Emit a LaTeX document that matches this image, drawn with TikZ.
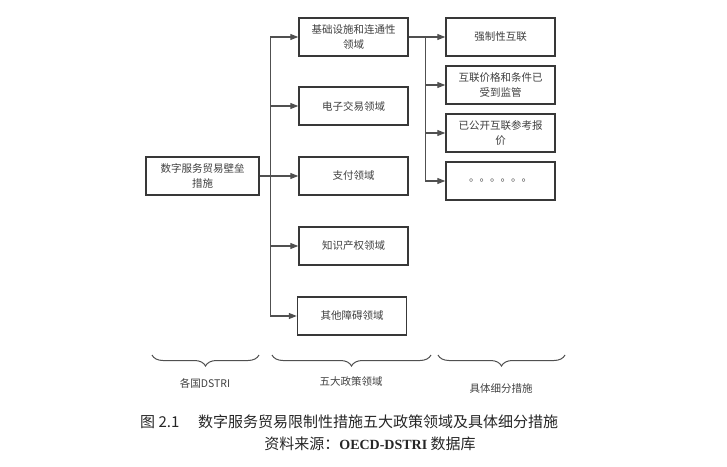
\documentclass[tikz,border=0pt]{standalone}
\usepackage{fontspec}
\setmainfont{Liberation Serif}
\newfontfamily\cjk{Noto Sans CJK SC}
\usepackage[rgb]{xcolor}
\usepackage{tikz}
\usetikzlibrary{arrows.meta,decorations.pathreplacing}

\definecolor{boxline}{HTML}{383838}
\definecolor{connline}{HTML}{505050}
\definecolor{boxtext}{HTML}{404040}

\begin{document}
\begin{tikzpicture}[x=1pt, y=-1pt,
  box/.style={draw=boxline, line width=1.5pt, fill=white, minimum height=38pt,
    minimum width=109pt, inner sep=1pt, align=center, text=boxtext,
    font=\cjk\fontsize{10.5}{15}\selectfont},
  conn/.style={draw=connline, line width=1.2pt},
  arr/.style={conn, -{Triangle[length=8pt,width=6pt]}},
  bracket/.style={draw=connline, line width=1pt, decorate,
    decoration={brace, mirror, amplitude=11pt}},
  lbl/.style={text=boxtext, inner sep=0pt, font=\cjk\fontsize{10.5}{13}\selectfont},
  captxt/.style={text=black!85, inner sep=0pt, font=\cjk\fontsize{15}{18}\selectfont}]

\useasboundingbox (0,0) rectangle (727,466);

%% the measures and the five policy areas
\path
(202.5,176) node[box, minimum width=113pt](root) {数字服务贸易壁垒\\措施}
(353.5,37)  node[box](infra) {基础设施和连通性\\领域}
(353.5,106) node[box](etrade) {电子交易领域}
(353.5,176) node[box](pay) {支付领域}
(353.5,246) node[box](ip) {知识产权领域}
(352,316)   node[box](other) {其他障碍领域};

%% sub-measures of the infrastructure area
\path
(500.5,37)  node[box](interconn) {强制性互联}
(500.5,85)  node[box](pricing) {互联价格和条件已\\受到监管}
(500.5,133) node[box](refoffer) {已公开互联参考报\\价}
(500.5,181) node[box](more) {。。。。。。};

%% connectors
\foreach \area in {infra,etrade,pay,ip,other}
  \draw[arr] (root.east) -- ++(11,0) |- (\area.west);
\draw[arr] (infra.east) -- (interconn.west);
\foreach \sub in {pricing,refoffer,more}
  \draw[arr] (infra.east) -- ++(17,0) |- (\sub.west);

%% braces under the three columns
\coordinate (cntryL) at (152,355);
\coordinate (cntryR) at (259,355);
\coordinate (areaL) at (272,355);
\coordinate (areaR) at (431,355);
\coordinate (subL) at (438,355);
\coordinate (subR) at (565,355);
\draw[bracket] (cntryL) -- (cntryR);
\draw[bracket] (areaL) -- (areaR);
\draw[bracket] (subL) -- (subR);
\path
(205,383) node[lbl](cntrylbl) {各国DSTRI}
(351,382) node[lbl](arealbl) {五大政策领域}
(501,388) node[lbl](sublbl) {具体细分措施};

%% caption
\path
(140,422) node[captxt, anchor=west](fignum) {图 2.1}
(198,422) node[captxt, anchor=west](figtitle) {数字服务贸易限制性措施五大政策领域及具体细分措施}
(370,444) node[captxt](figsource) {资料来源：{\rmfamily\bfseries\fontsize{14}{18}\selectfont OECD-DSTRI} 数据库};

\end{tikzpicture}
\end{document}
